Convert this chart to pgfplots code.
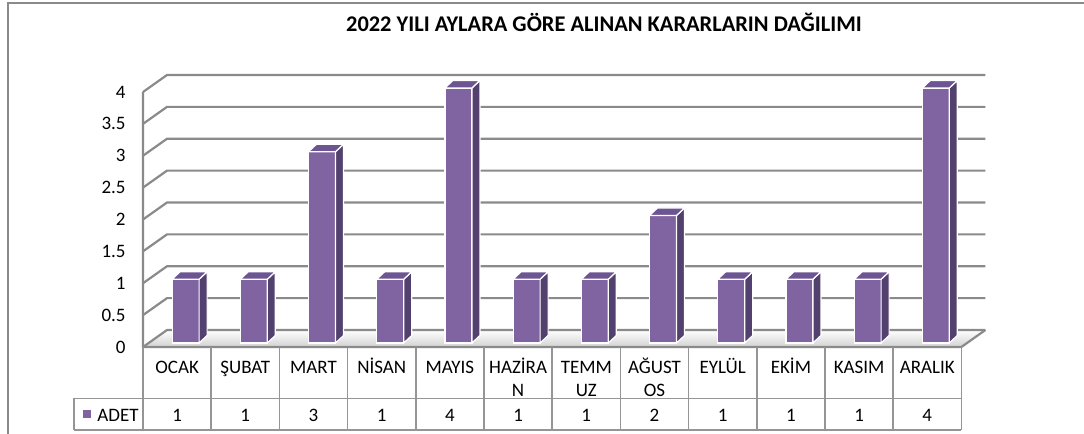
\documentclass[border=0pt]{standalone}
\usepackage{fontspec}
\setmainfont{Carlito}
\usepackage{pgfplots}
\pgfplotsset{compat=1.18}
\usepackage{pgfplotstable}
\usetikzlibrary{calc}
\definecolor{barfront}{HTML}{8064A2}
\definecolor{barside}{HTML}{52406E}
\definecolor{bartop}{HTML}{6C5592}
\definecolor{gridc}{HTML}{8A8A8A}
\definecolor{tablec}{HTML}{959595}
\newcommand{\tabfont}{\fontsize{9.5}{11.5}\selectfont}

\pgfplotstableread{
x v
0 1
1 1
2 3
3 1
4 4
5 1
6 1
7 2
8 1
9 1
10 1
11 4
}\data

\pgfdeclareplotmark{bar3d}{%
  \pgfpathmoveto{\pgfqpoint{8pt}{0pt}}%
  \pgfpathlineto{\pgfqpoint{12pt}{3.75pt}}%
  \pgfpathlineto{\pgfpoint{12pt}{3.75pt-\barh pt}}%
  \pgfpathlineto{\pgfpoint{8pt}{0pt-\barh pt}}%
  \pgfpathclose
  \pgfsetfillcolor{barside}%
  \pgfusepath{fill,stroke}%
  \pgfpathmoveto{\pgfqpoint{-5.5pt}{0pt}}%
  \pgfpathlineto{\pgfqpoint{8pt}{0pt}}%
  \pgfpathlineto{\pgfqpoint{12pt}{3.75pt}}%
  \pgfpathlineto{\pgfqpoint{-1.5pt}{3.75pt}}%
  \pgfpathclose
  \pgfsetfillcolor{bartop}%
  \pgfusepath{fill,stroke}%
}

\begin{document}
\begin{tikzpicture}
% outer chart border
\draw[gridc, line width=1pt] (4pt,-5pt) -- (4pt,215.5pt) -- (550pt,215.5pt);
% title
\node[font=\fontsize{11.2}{13}\selectfont\bfseries, anchor=base, inner sep=0pt] at (302pt,201.2pt) {2022 YILI AYLARA GÖRE ALINAN KARARLARIN DAĞILIMI};

\begin{axis}[
  name=front,
  at={(71.5pt,43.5pt)}, anchor=south west,
  x=34.1pt, y=31.875pt,
  xmin=-0.5, xmax=11.5, ymin=0, ymax=4,
  clip=false,
  axis line style={draw=none},
  major tick length=0pt,
  tick style={draw=none},
  ytick={0,0.5,1,1.5,2,2.5,3,3.5,4},
  yticklabel style={font=\tabfont, anchor=east, inner sep=0pt, xshift=-8.5pt},
  xtick={0,...,11},
  xticklabels={\strut OCAK,\strut ŞUBAT,\strut MART,\strut NİSAN,\strut MAYIS,\strut HAZİRA\\N,\strut TEMM\\UZ,\strut AĞUST\\OS,\strut EYLÜL,\strut EKİM,\strut KASIM,\strut ARALIK},
  xticklabel style={font=\tabfont, anchor=north, align=center, inner sep=0pt, yshift=-4.95pt},
  /pgf/number format/assume math mode=true,
]
% floor
\path[top color=white, bottom color=gray!35] (axis cs:-0.5,0) -- (axis cs:11.5,0) -- ++(12pt,8.5pt) -- ++(-409.2pt,0pt) -- cycle;
% back wall gridlines with left slants
\pgfplotsinvokeforeach{0,0.5,1,1.5,2,2.5,3,3.5,4}{
  \draw[gridc, line width=1.1pt] (axis cs:-0.5,#1) -- ++(12pt,8.5pt) -- ++(409.2pt,0pt);
}
% front vertical axis and floor edges
\draw[gridc, line width=1.1pt] (axis cs:-0.5,4) -- (axis cs:-0.5,0) -- (axis cs:11.5,0) -- ++(12pt,8.5pt);
% data table values
\addplot[draw=none, mark=none, nodes near coords, point meta=explicit,
  every node near coord/.append style={font=\tabfont, anchor=base, inner sep=0pt, yshift=-37.5pt}]
  table[x=x, y expr=0, meta=v]{\data};
\end{axis}

% data table grid
\foreach \k in {0,...,12}{
  \draw[tablec, line width=0.85pt] ($(front.south west)+(\k*34.1pt,0)$) -- ++(0,-41.5pt);
}
\draw[tablec, line width=0.85pt] (37pt,17.75pt) -- ($(front.south east)+(0,-25.75pt)$);
\draw[tablec, line width=0.85pt] (37pt,2pt) -- ($(front.south east)+(0,-41.5pt)$);
\draw[tablec, line width=0.85pt] (37pt,2pt) -- (37pt,17.75pt);
\node[anchor=base west, inner sep=0pt, font=\tabfont] at (41.5pt,6pt) {\textcolor{barfront}{\rule[1.9pt]{4pt}{4pt}}\hspace{3pt}ADET};

\begin{axis}[
  at={(74.5pt,45.5pt)}, anchor=south west,
  x=34.1pt, y=31.875pt,
  xmin=-0.5, xmax=11.5, ymin=0, ymax=4,
  hide axis, clip=false,
]
\addplot[ybar, bar width=13.5pt, bar shift=1.25pt, fill=barfront, draw=white, line width=0.6pt] table[x=x, y=v]{\data};
\addplot[only marks, mark=bar3d, mark options={draw=white, line width=0.6pt},
  visualization depends on={\thisrow{v}*31.875 \as \barh}] table[x=x, y=v]{\data};
\end{axis}

\pgfresetboundingbox
\path[use as bounding box] (0pt,0pt) rectangle (542pt,217pt);
\end{tikzpicture}
\end{document}
